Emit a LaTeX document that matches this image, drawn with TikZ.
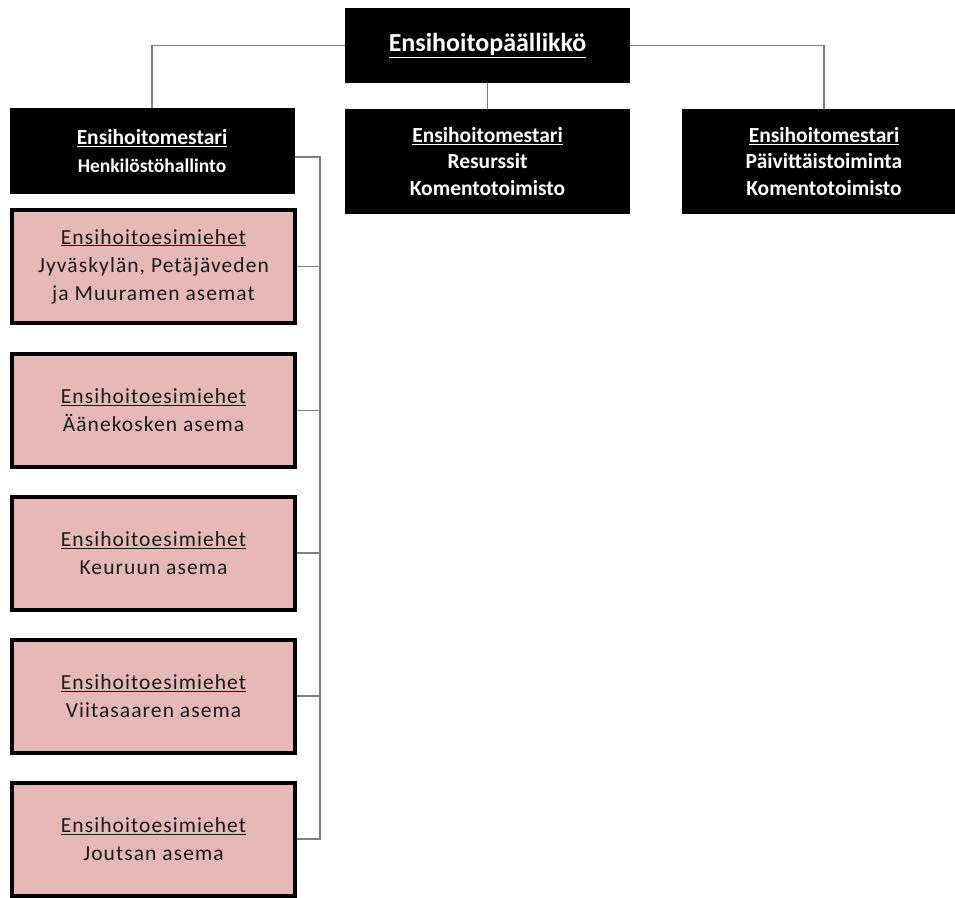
\documentclass[tikz,border=0pt]{standalone}
\usepackage{fontspec}
\setmainfont{Carlito}
\definecolor{pinkfill}{HTML}{E6B8B7}
\definecolor{connc}{HTML}{808080}
\definecolor{txtc}{HTML}{1A1A1A}
\tikzset{
  bossbox/.style={fill=black, text=white, align=center, inner sep=0pt,
    minimum width=285pt, font=\bfseries\fontsize{21.5}{26.5}\selectfont},
  pinkbox/.style={fill=pinkfill, draw=black, line width=4pt, text=txtc, align=center,
    inner sep=0pt, minimum width=283pt, minimum height=113pt,
    font=\addfontfeatures{LetterSpace=5}\fontsize{21.5}{28}\selectfont},
  conn/.style={draw=connc, line width=1.6pt},
}
\begin{document}
\begin{tikzpicture}[x=1pt,y=-1pt]
\useasboundingbox (0,0) rectangle (955,897);
% top level
\node[bossbox, minimum height=75pt, font=\bfseries\fontsize{26}{30}\selectfont] (top) at (487.5,45.5) {\underline{Ensihoitopäällikkö}};
\node[bossbox, minimum height=86pt] (left) at (152,151) {\underline{Ensihoitomestari}\\[1pt]{\fontsize{19.5}{24}\selectfont Henkilöstöhallinto}};
\node[bossbox, minimum height=105pt] (mid) at (487.5,161.5) {\underline{Ensihoitomestari}\\Resurssit\\Komentotoimisto};
\node[bossbox, minimum height=105pt] (right) at (824,161.5) {\underline{Ensihoitomestari}\\Päivittäistoiminta\\Komentotoimisto};
% pink boxes
\node[pinkbox] (p1) at (153.5,266.5) {\underline{Ensihoitoesimiehet}\\Jyväskylän, Petäjäveden\\ja Muuramen asemat};
\node[pinkbox] (p2) at (153.5,410.5) {\underline{Ensihoitoesimiehet}\\Äänekosken asema};
\node[pinkbox] (p3) at (153.5,553) {\underline{Ensihoitoesimiehet}\\Keuruun asema};
\node[pinkbox] (p4) at (153.5,696) {\underline{Ensihoitoesimiehet}\\Viitasaaren asema};
\node[pinkbox] (p5) at (153.5,839) {\underline{Ensihoitoesimiehet}\\Joutsan asema};
% connectors
\coordinate (busx) at (320,0);
\draw[conn] (top.west) -| (left.north);
\draw[conn] (top.east) -| (right.north);
\draw[conn] (top.south) -- (mid.north);
\draw[conn] ([yshift=-6pt]left.east) -- ([yshift=-6pt]left.east -| busx) |- (p5.east);
\foreach \p in {p1,p2,p3,p4} {
  \draw[conn] (\p.east) -- (\p.east -| busx);
}
\end{tikzpicture}
\end{document}
